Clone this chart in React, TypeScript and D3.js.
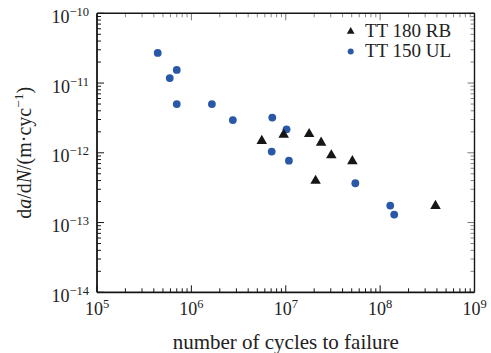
import React from "react";
import * as d3 from "d3";

const W = 491;
const H = 353;
const M = { left: 97, right: 474.5, top: 13.3, bottom: 292.3 };

// TT 180 RB (triangles)
const rbCycles = [5.57e6, 9.5e6, 1.77e7, 2.37e7, 3.04e7, 5.08e7, 2.07e7, 3.86e8];
const rbRate = [1.48e-12, 1.82e-12, 1.86e-12, 1.40e-12, 9.2e-13, 7.6e-13, 3.98e-13, 1.73e-13];

// TT 150 UL (circles)
const ulCycles = [4.4e5, 5.9e5, 7.0e5, 7.0e5, 1.65e6, 2.75e6, 7.2e6, 1.02e7, 7.1e6, 1.08e7, 5.46e7, 1.28e8, 1.41e8];
const ulRate = [2.7e-11, 1.18e-11, 1.54e-11, 5.0e-12, 5.0e-12, 2.95e-12, 3.2e-12, 2.17e-12, 1.04e-12, 7.7e-13, 3.66e-13, 1.75e-13, 1.3e-13];

const xExponents = [5, 6, 7, 8, 9];
const yExponents = [-10, -11, -12, -13, -14];
const seriesNames = ["TT 180 RB", "TT 150 UL"];

const BLUE = "#2a58a8";
const BLACK = "#161616";
const CSS = `
svg.chart text, svg.chart tspan {
  font-family: "Liberation Serif", "Times New Roman", Tinos, serif !important;
}
`;

export default function App() {
  const x = d3.scaleLog().domain([1e5, 1e9]).range([M.left, M.right]);
  const y = d3.scaleLog().domain([1e-14, 1e-10]).range([M.bottom, M.top]);

  const tri = d3.symbol().type(d3.symbolTriangle).size(48)();
  const triLegend = d3.symbol().type(d3.symbolTriangle).size(26)();

  const xMinor: number[] = [];
  for (let e = 5; e < 9; e++) for (let k = 2; k <= 9; k++) xMinor.push(k * Math.pow(10, e));
  const yMinor: number[] = [];
  for (let e = -14; e < -10; e++) for (let k = 2; k <= 9; k++) yMinor.push(k * Math.pow(10, e));

  const majLen = 7;
  const minLen = 4;
  const ff = "Liberation Serif";

  return (
    <svg className="chart" width={W} height={H} style={{ position: "absolute", left: 0, top: 0 }} fontFamily={ff}>
      <style>{CSS}</style>
      <rect x={0} y={0} width={W} height={H} fill="#fff" />
      {/* x ticks bottom & top */}
      {xExponents.map((e) => {
        const px = x(Math.pow(10, e));
        return (
          <g key={"xm" + e}>
            <line x1={px} x2={px} y1={M.bottom} y2={M.bottom - majLen} stroke={BLACK} strokeWidth={1} />
            <line x1={px} x2={px} y1={M.top} y2={M.top + majLen} stroke="#777" strokeWidth={1} />
          </g>
        );
      })}
      {xMinor.map((v, i) => {
        const px = x(v);
        return (
          <g key={"xn" + i}>
            <line x1={px} x2={px} y1={M.bottom} y2={M.bottom - minLen} stroke={BLACK} strokeWidth={1} />
            <line x1={px} x2={px} y1={M.top} y2={M.top + minLen} stroke="#888" strokeWidth={1} />
          </g>
        );
      })}
      {/* y ticks left & right */}
      {yExponents.map((e) => {
        const py = y(Math.pow(10, e));
        return (
          <g key={"ym" + e}>
            <line x1={M.left} x2={M.left + majLen} y1={py} y2={py} stroke={BLACK} strokeWidth={1} />
            <line x1={M.right} x2={M.right - majLen} y1={py} y2={py} stroke="#777" strokeWidth={1} />
          </g>
        );
      })}
      {yMinor.map((v, i) => {
        const py = y(v);
        return (
          <g key={"yn" + i}>
            <line x1={M.left} x2={M.left + minLen} y1={py} y2={py} stroke={BLACK} strokeWidth={1} />
            <line x1={M.right} x2={M.right - minLen} y1={py} y2={py} stroke="#888" strokeWidth={1} />
          </g>
        );
      })}
      {/* frame */}
      <line x1={M.left} x2={M.right} y1={M.bottom} y2={M.bottom} stroke={BLACK} strokeWidth={1.8} />
      <line x1={M.left} x2={M.left} y1={M.top} y2={M.bottom} stroke={BLACK} strokeWidth={1.8} />
      <line x1={M.left} x2={M.right} y1={M.top} y2={M.top} stroke={BLACK} strokeWidth={1.4} />
      <line x1={M.right} x2={M.right} y1={M.top} y2={M.bottom} stroke={BLACK} strokeWidth={1.4} />

      {/* data */}
      {ulCycles.map((c, i) => (
        <circle key={"ul" + i} cx={x(c)} cy={y(ulRate[i])} r={3.9} fill={BLUE} />
      ))}
      {rbCycles.map((c, i) => (
        <path key={"rb" + i} d={tri} transform={`translate(${x(c)},${y(rbRate[i])})`} fill={BLACK} />
      ))}

      {/* tick labels */}
      {xExponents.map((e) => (
        <text key={"xl" + e} x={x(Math.pow(10, e))} y={M.bottom + 23} textAnchor="middle" fontSize={18} fill="#222" fontFamily={ff}>
          10<tspan fontSize={12.5} dy={-7}>{e}</tspan>
        </text>
      ))}
      {yExponents.map((e) => (
        <text key={"yl" + e} x={89} y={y(Math.pow(10, e)) + 9.5} textAnchor="end" fontSize={18} fill="#222" fontFamily={ff}>
          10<tspan fontSize={12.5} dy={-7}>{"\u2212" + Math.abs(e)}</tspan>
        </text>
      ))}

      {/* legend */}
      <path d={triLegend} transform="translate(350.7,31.5)" fill={BLACK} />
      <text x={365} y={36.5} fontSize={19} fill="#222" fontFamily={ff}>{seriesNames[0]}</text>
      <circle cx={350.7} cy={51.5} r={3} fill={BLUE} />
      <text x={365} y={56.5} fontSize={19} fill="#222" fontFamily={ff}>{seriesNames[1]}</text>

      {/* axis titles */}
      <text x={(M.left + M.right) / 2} y={348.5} textAnchor="middle" fontSize={21} fill="#222" fontFamily={ff}>
        number of cycles to failure
      </text>
      <text
        transform={`translate(31,${(M.top + M.bottom) / 2}) rotate(-90)`}
        textAnchor="middle"
        fontSize={20}
        fill="#222"
        fontFamily={ff}
      >
        d<tspan fontStyle="italic">a</tspan>/d<tspan fontStyle="italic">N</tspan>/(m·cyc
        <tspan fontSize={13.5} dy={-8}>{"\u22121"}</tspan>
        <tspan dy={8}>)</tspan>
      </text>
    </svg>
  );
}
